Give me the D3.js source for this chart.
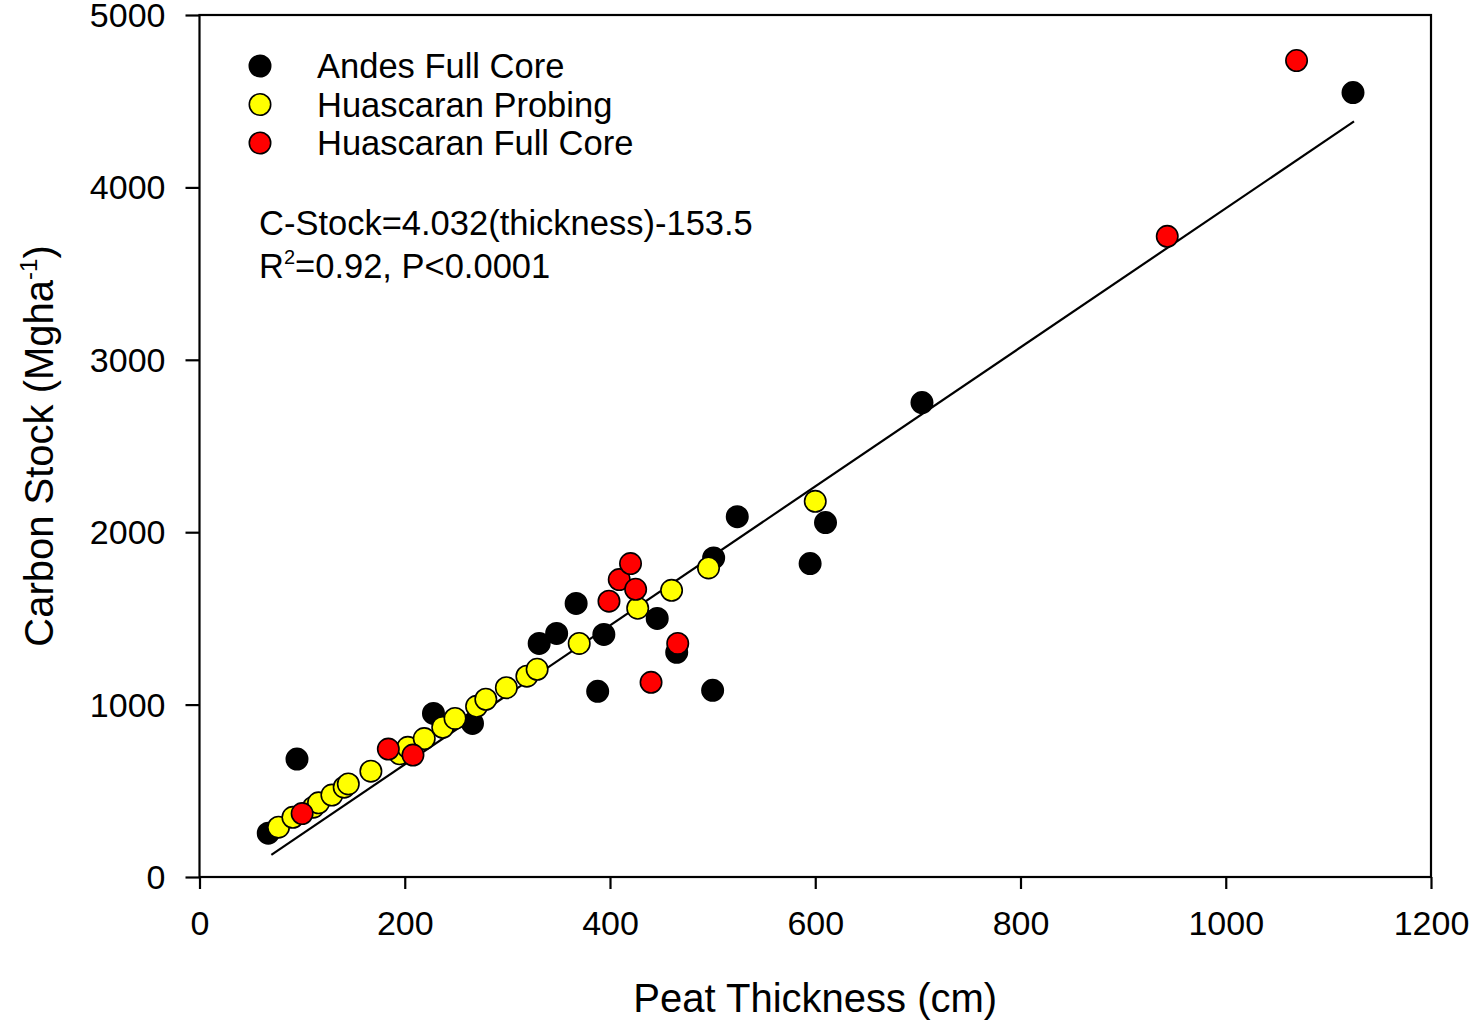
<!DOCTYPE html>
<html>
<head>
<meta charset="utf-8">
<script src="https://cdn.jsdelivr.net/npm/d3@7"></script>
<style>
  body { margin: 0; background: #fff; }
  svg { display: block; font-family: Arial, "Liberation Sans", sans-serif; }
</style>
</head>
<body>
<svg id="chart"></svg>
<script>
// Andes Full Core [thickness, stock]
const andesFull = [
  [67, 254], [95, 684], [228, 949], [266, 891], [331, 1355], [348, 1413],
  [367, 1587], [388, 1077], [394, 1407], [446, 1500], [465, 1303], [500, 1083],
  [501, 1851], [524, 2090], [595, 1818], [610, 2056], [704, 2752], [1124, 4550]
];
// Huascaran Probing
const huasProbing = [
  [77, 289], [91, 346], [111, 405], [116, 430], [129, 475], [141, 521],
  [145, 540], [167, 614], [195, 715], [203, 752], [219, 803], [237, 868],
  [249, 920], [270, 990], [279, 1031], [299, 1098], [319, 1165], [329, 1205],
  [370, 1355], [427, 1559], [460, 1663], [496, 1793], [600, 2179]
];
// Huascaran Full Core
const huasFull = [
  [100, 368], [184, 742], [208, 707], [399, 1600], [409, 1725], [420, 1818],
  [425, 1669], [440, 1129], [466, 1355], [943, 3716], [1069, 4736]
];

const xTicks = [0, 200, 400, 600, 800, 1000, 1200];
const yTicks = [0, 1000, 2000, 3000, 4000, 5000];
const fitSlope = 4.032;
const fitIntercept = -153.5;
const fitRange = [70, 1125];

const series = [
  { name: "Andes Full Core", data: andesFull, color: "#000000" },
  { name: "Huascaran Probing", data: huasProbing, color: "#ffff00" },
  { name: "Huascaran Full Core", data: huasFull, color: "#ff0000" }
];

const width = 1476, height = 1028;
const svg = d3.select("#chart").attr("width", width).attr("height", height);

const x = d3.scaleLinear().domain([0, 1200]).range([199.5, 1431]);
const y = d3.scaleLinear().domain([0, 5000]).range([877, 15]);

// frame
svg.append("rect")
  .attr("x", x(0)).attr("y", y(5000))
  .attr("width", x(1200) - x(0)).attr("height", y(0) - y(5000))
  .attr("fill", "none").attr("stroke", "#000").attr("stroke-width", 2.2);

const xAxis = svg.append("g")
  .attr("transform", `translate(0,${y(0)})`)
  .call(d3.axisBottom(x).tickValues(xTicks).tickFormat(d3.format("d"))
    .tickSize(12).tickPadding(22).tickSizeOuter(0));
const yAxis = svg.append("g")
  .attr("transform", `translate(${x(0)},0)`)
  .call(d3.axisLeft(y).tickValues(yTicks).tickFormat(d3.format("d"))
    .tickSize(14).tickPadding(20).tickSizeOuter(0));

[xAxis, yAxis].forEach(g => {
  g.select(".domain").remove();
  g.selectAll(".tick line").attr("stroke", "#000").attr("stroke-width", 2.2);
  g.selectAll(".tick text")
    .attr("fill", "#000")
    .style("font-size", "34px")
    .style("font-family", "Arial, 'Liberation Sans', sans-serif");
});
yAxis.selectAll(".tick text").attr("dy", "0.34em");

// regression line
svg.append("line")
  .attr("x1", x(fitRange[0])).attr("y1", y(fitSlope * fitRange[0] + fitIntercept))
  .attr("x2", x(fitRange[1])).attr("y2", y(fitSlope * fitRange[1] + fitIntercept))
  .attr("stroke", "#000").attr("stroke-width", 2.2);

// points
series.forEach(s => {
  svg.append("g").selectAll("circle")
    .data(s.data)
    .join("circle")
    .attr("cx", d => x(d[0]))
    .attr("cy", d => y(d[1]))
    .attr("r", 10.7)
    .attr("fill", s.color)
    .attr("stroke", "#000")
    .attr("stroke-width", 1.6);
});

// legend
const legend = svg.append("g");
series.forEach((s, i) => {
  const ly = 66 + i * 38.5;
  legend.append("circle")
    .attr("cx", 260).attr("cy", ly).attr("r", 10.7)
    .attr("fill", s.color).attr("stroke", "#000").attr("stroke-width", 1.6);
  legend.append("text")
    .attr("x", 317).attr("y", ly + 12)
    .style("font-size", "34.5px")
    .text(s.name);
});

// equation
svg.append("text")
  .attr("x", 259).attr("y", 235)
  .style("font-size", "34.5px")
  .text(`C-Stock=${fitSlope}(thickness)${fitIntercept}`);
const r2 = svg.append("text")
  .attr("x", 259).attr("y", 278)
  .style("font-size", "34.5px");
r2.append("tspan").text("R");
r2.append("tspan").attr("dy", -14).style("font-size", "20px").text("2");
r2.append("tspan").attr("dy", 14).text("=0.92, P<0.0001");

// axis titles
svg.append("text")
  .attr("x", (x(0) + x(1200)) / 2).attr("y", 1012)
  .attr("text-anchor", "middle")
  .style("font-size", "40px")
  .text("Peat Thickness (cm)");

const yt = svg.append("text")
  .attr("transform", `translate(53,${(y(0) + y(5000)) / 2}) rotate(-90)`)
  .attr("text-anchor", "middle")
  .style("font-size", "40px");
yt.append("tspan").text("Carbon Stock (Mgha");
yt.append("tspan").attr("dy", -16).style("font-size", "24px").text("-1");
yt.append("tspan").attr("dy", 16).text(")");
</script>
</body>
</html>
